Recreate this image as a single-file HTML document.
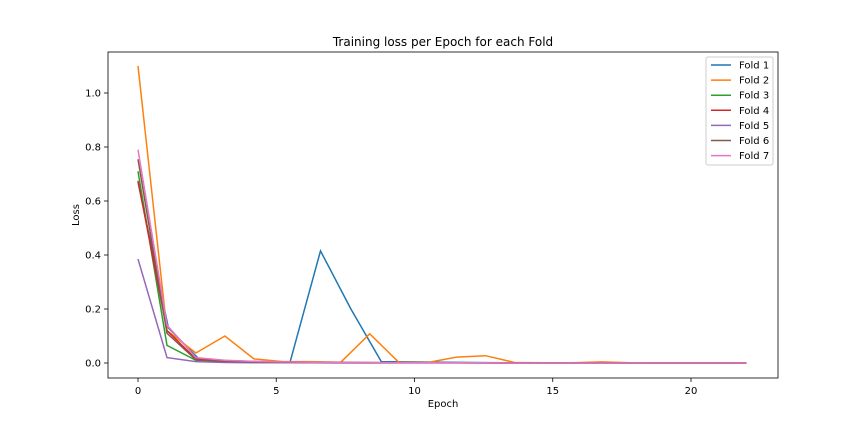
<!DOCTYPE html>
<html><head><meta charset="utf-8"><style>
body{margin:0;background:#fff;}
svg{display:block;font-family:"DejaVu Sans","Liberation Sans",sans-serif;}
</style></head><body>
<svg id="chart" width="864" height="432" xmlns="http://www.w3.org/2000/svg">
<text x="443" y="46" font-size="12" text-anchor="middle">Training loss per Epoch for each Fold</text>
<text x="443" y="407" font-size="10" text-anchor="middle">Epoch</text>
<text x="79" y="215" font-size="10" text-anchor="middle" transform="rotate(-90 79 215)">Loss</text>
<g id="plot"></g>
</svg>
<script>
const foldNames=["Fold 1","Fold 2","Fold 3","Fold 4","Fold 5","Fold 6","Fold 7"];
const colors=["#1f77b4","#ff7f0e","#2ca02c","#d62728","#9467bd","#8c564b","#e377c2"];
const fold1=[0.67,0.13,0.015,0.008,0.005,0.004,0.415,0.2,0.005,0.004,0.003,0.002,0.001,0.001,0.001,0.001,0.001,0.0,0.0,0.0,0.0];
const fold2=[1.10,0.12,0.037,0.10,0.015,0.005,0.005,0.003,0.108,0.003,0.002,0.022,0.027,0.002,0.001,0.001,0.004,0.001,0.0,0.0,0.0,0.0];
const fold3=[0.71,0.065,0.01,0.006,0.004,0.003,0.002,0.002,0.001,0.001,0.001,0.001,0.001,0.0,0.0,0.0,0.0,0.0,0.0,0.0,0.0,0.0];
const fold4=[0.675,0.12,0.015,0.008,0.005,0.004,0.003,0.002,0.002,0.001,0.001,0.001,0.001,0.001,0.001,0.001,0.001,0.0,0.0,0.0,0.0,0.0];
const fold5=[0.385,0.02,0.005,0.002,0.001,0.001,0.001,0.0,0.0,0.0,0.0,0.0,0.0,0.0,0.0,0.0,0.0,0.0,0.0,0.0,0.0,0.0];
const fold6=[0.755,0.11,0.012,0.006,0.004,0.003,0.002,0.002,0.001,0.001,0.001,0.001,0.0,0.0,0.0,0.0,0.0,0.0,0.0,0.0,0.0,0.0];
const fold7=[0.79,0.14,0.02,0.01,0.006,0.004,0.003,0.002,0.002,0.001,0.001,0.001,0.001,0.0,0.0,0.0,0.0,0.0,0.0,0.0,0.0,0.0];
const series=[fold1,fold2,fold3,fold4,fold5,fold6,fold7];
const xTicks=[0,5,10,15,20];
const yTicks=[0.0,0.2,0.4,0.6,0.8,1.0];
const xMax=22;
const NS="http://www.w3.org/2000/svg";
const L=108,R=778,T=52,B=378;
function xs(v){return 138+v*27.65;}
function ys(v){return 363-v*270;}
const g=document.getElementById('plot');
function mk(t,a){const e=document.createElementNS(NS,t);for(const k in a)e.setAttribute(k,a[k]);g.appendChild(e);return e;}
xTicks.forEach(t=>{
  const l=mk('line',{x1:xs(t),x2:xs(t),y1:B,y2:B+4,stroke:'#000','stroke-width':0.8});
  
  
  const tx=mk('text',{x:xs(t),y:B+16,'font-size':10,'text-anchor':'middle'});
  tx.textContent=t;
  
  
});
yTicks.forEach(t=>{
  const l=mk('line',{x1:L-4,x2:L,y1:ys(t),y2:ys(t),stroke:'#000','stroke-width':0.8});
  
  
  const tx=mk('text',{x:L-7,y:ys(t)+3.5,'font-size':10,'text-anchor':'end'});
  tx.textContent=t.toFixed(1);
  
  
});
series.forEach((s,i)=>{
  const n=s.length;
  const pts=s.map((v,j)=>xs(j*xMax/(n-1)).toFixed(1)+','+ys(v).toFixed(1)).join(' ');
  const p=mk('polyline',{points:pts,fill:'none',stroke:colors[i],'stroke-width':1.5});
  
  
});
const fr=mk('rect',{x:L,y:T,width:R-L,height:B-T,fill:'none',stroke:'#000','stroke-width':0.8});


const lg=mk('rect',{x:706,y:57,width:67,height:108,fill:'#fff','fill-opacity':0.8,stroke:'#ccc','stroke-width':1,rx:2});


foldNames.forEach((nm,i)=>{
  const y=65+i*15.1;
  const l=mk('line',{x1:711,x2:731,y1:y,y2:y,stroke:colors[i],'stroke-width':1.5});
  
  
  const t=mk('text',{x:739,y:y+3.5,'font-size':10});
  t.textContent=nm;
  
  
});
</script>
</body></html>
